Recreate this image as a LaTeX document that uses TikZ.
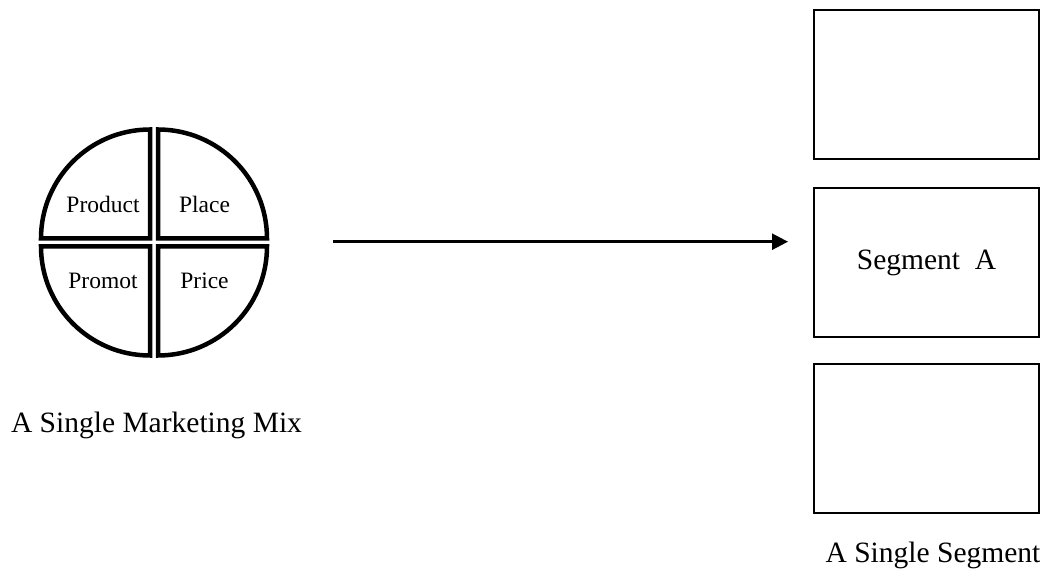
\documentclass[tikz,border=0pt]{standalone}
\usepackage{fontspec}
\setmainfont{Liberation Serif}
\usepackage{tikz}
\usetikzlibrary{arrows.meta,positioning,calc}

\begin{document}
\begin{tikzpicture}[x=1pt, y=1pt,
    quad/.style={draw=black, line width=4.5pt, line join=miter},
    segbox/.style={rectangle, draw=black, line width=2pt, minimum width=225pt, minimum height=149pt, inner sep=0pt},
    lbl/.style={font=\fontsize{29.5}{35}\selectfont, anchor=base},
    qlbl/.style={font=\fontsize{23.5}{28}\selectfont, anchor=base},
    arr/.style={-{Triangle[length=16pt, width=16pt]}, line width=2.5pt}]

    \useasboundingbox (0,0) rectangle (1046,570);

    % Marketing mix circle
    \coordinate (mix) at (154,327.5);
    \foreach \sx/\sy/\a in {1/1/0, -1/1/90, -1/-1/180, 1/-1/270}
        \draw[quad] ($(mix)+(\sx*4,\sy*4)$) -- ++(\a:109) arc[start angle=\a, end angle=\a+90, radius=109] -- cycle;

    \node[qlbl] (product) at (103,357.3) {Product};
    \node[qlbl] (place) at (204.5,357.3) {Place};
    \node[qlbl] (promot) at (103,281.7) {Promot};
    \node[qlbl] (price) at (204.5,281.7) {Price};

    \node[lbl] (mixlabel) at (156.5,137) {A Single Marketing Mix};

    % Segments
    \node[segbox] (seg1) at (926.5,485.75) {};
    \node[segbox, font=\fontsize{29.5}{35}\selectfont] (seg2) at (926.5,307.5) {Segment\ \ A};
    \node[segbox] (seg3) at (926.5,131.5) {};

    \node[lbl] (seglabel) at (933,8) {A Single Segment};

    % Arrow
    \coordinate (mixout) at (333,328.3);
    \draw[arr, shorten >=25pt] (mixout) -- (mixout -| seg2.west);
\end{tikzpicture}
\end{document}
